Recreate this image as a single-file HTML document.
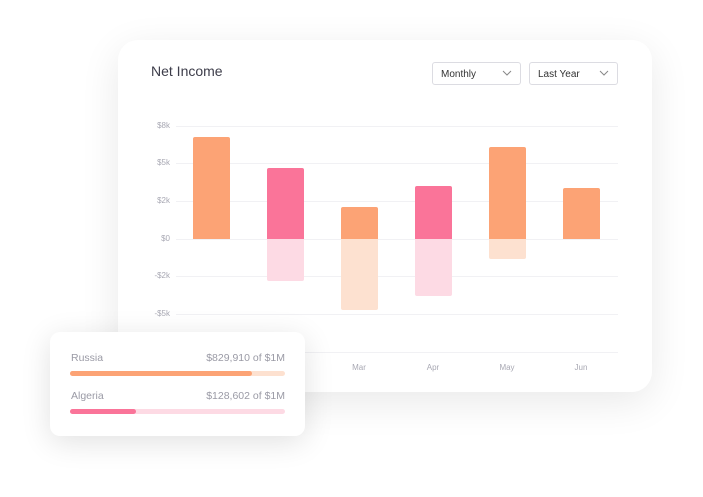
<!DOCTYPE html>
<html><head><style>
*{margin:0;padding:0;box-sizing:border-box}
body{width:703px;height:497px;background:#fff;font-family:"Liberation Sans",sans-serif;position:relative;overflow:hidden}
.card{position:absolute;left:118px;top:40px;width:534px;height:352px;background:#fff;border-radius:20px;box-shadow:0 10px 40px rgba(0,0,0,0.09)}
.t{position:absolute;left:151px;top:63px;font-size:14px;color:#3d3d4a}
.dd{position:absolute;top:62px;height:23px;border:1px solid #dcdce2;border-radius:3px;font-size:10px;color:#333;padding:6px 0 0 8px}
.dd svg{position:absolute;right:8px;top:7px}
.g{position:absolute;left:176px;width:442px;height:1px;background:#f1f1f4}
.yl{position:absolute;left:140px;width:30px;text-align:right;font-size:8px;color:#a8a8b3}
.b{position:absolute;width:37px}
.m{position:absolute;top:363px;width:40px;text-align:center;font-size:8px;color:#a8a8b3}
.card2{position:absolute;left:50px;top:332px;width:255px;height:104px;background:#fff;border-radius:10px;box-shadow:0 6px 30px rgba(0,0,0,0.12)}
.lab{position:absolute;font-size:10.5px;color:#9a9aa5}
.tr{position:absolute;left:70px;width:215px;height:5px;border-radius:3px}
</style></head><body>
<div class="card"></div>
<div class="t">Net Income</div>
<div class="dd" style="left:432px;width:89px">Monthly<svg width="10" height="6"><path d="M1 1l4 4 4-4" stroke="#888" fill="none"/></svg></div>
<div class="dd" style="left:529px;width:89px">Last Year<svg width="10" height="6"><path d="M1 1l4 4 4-4" stroke="#888" fill="none"/></svg></div>
<div class="g" style="top:126px"></div><div class="g" style="top:163px"></div><div class="g" style="top:201px"></div><div class="g" style="top:239px"></div><div class="g" style="top:276px"></div><div class="g" style="top:314px"></div><div class="g" style="top:352px"></div>
<div class="yl" style="top:121px">$8k</div><div class="yl" style="top:158px">$5k</div><div class="yl" style="top:196px">$2k</div><div class="yl" style="top:234px">$0</div><div class="yl" style="top:271px">-$2k</div><div class="yl" style="top:309px">-$5k</div>
<div class="b" style="left:193px;top:137px;height:102px;background:#fca375;border-radius:2px 2px 0 0"></div>
<div class="b" style="left:267px;top:168px;height:71px;background:#fa7499;border-radius:2px 2px 0 0"></div>
<div class="b" style="left:267px;top:239px;height:42px;background:#fddae4;border-radius:0 0 2px 2px"></div>
<div class="b" style="left:341px;top:207px;height:32px;background:#fca375;border-radius:2px 2px 0 0"></div>
<div class="b" style="left:341px;top:239px;height:71px;background:#fde1d0;border-radius:0 0 2px 2px"></div>
<div class="b" style="left:415px;top:186px;height:53px;background:#fa7499;border-radius:2px 2px 0 0"></div>
<div class="b" style="left:415px;top:239px;height:57px;background:#fddae4;border-radius:0 0 2px 2px"></div>
<div class="b" style="left:489px;top:147px;height:92px;background:#fca375;border-radius:2px 2px 0 0"></div>
<div class="b" style="left:489px;top:239px;height:20px;background:#fde1d0;border-radius:0 0 2px 2px"></div>
<div class="b" style="left:563px;top:188px;height:51px;background:#fca375;border-radius:2px 2px 0 0"></div>
<div class="m" style="left:339px">Mar</div><div class="m" style="left:413px">Apr</div><div class="m" style="left:487px">May</div><div class="m" style="left:561px">Jun</div>
<div class="card2"></div>
<div class="lab" style="left:71px;top:352px">Russia</div>
<div class="lab" style="left:185px;top:352px;width:100px;text-align:right">$829,910 of $1M</div>
<div class="tr" style="top:371px;background:#fde1d0"></div>
<div class="tr" style="top:371px;width:182px;background:#fca375"></div>
<div class="lab" style="left:71px;top:390px">Algeria</div>
<div class="lab" style="left:185px;top:390px;width:100px;text-align:right">$128,602 of $1M</div>
<div class="tr" style="top:409px;background:#fddae4"></div>
<div class="tr" style="top:409px;width:66px;background:#fa7499"></div>
</body></html>
